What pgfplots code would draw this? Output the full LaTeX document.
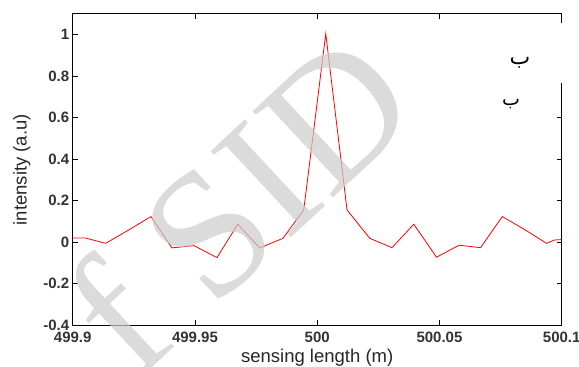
\documentclass[border=0pt]{standalone}
\usepackage{pgfplots}
\pgfplotsset{compat=1.18}
\usepackage{fontspec}
\setmainfont{Liberation Sans}
\newfontfamily\wmfont{Liberation Serif}
\newfontfamily\arabicfont[Script=Arabic]{DejaVu Sans}
\TeXXeTstate=1
\begin{document}
\begin{tikzpicture}[x=1pt,y=1pt]
\useasboundingbox (0,0) rectangle (579,367);
\begin{axis}[
  at={(72.7pt,41.7pt)}, anchor=south west,
  scale only axis, width=489pt, height=311.3pt,
  xmin=499.9, xmax=500.1, ymin=-0.4, ymax=1.1,
  xtick={499.9,499.95,500,500.05,500.1},
  xticklabels={499.9,499.95,500,500.05,500.1},
  ytick={-0.4,-0.2,0,0.2,0.4,0.6,0.8,1},
  yticklabels={-0.4,-0.2,0,0.2,0.4,0.6,0.8,1},
  tick align=inside, major tick length=5pt,
  tick style={black, line width=0.8pt},
  axis line style={black, line width=1pt},
  /pgf/number format/assume math mode=true,
  tick label style={font=\fontsize{15}{15}\selectfont\bfseries, text=black!80},
  xticklabel style={yshift=-3.5pt},
  label style={font=\fontsize{18.5}{18.5}\selectfont, text=black!85},
  xlabel={sensing length (m)},
  ylabel={intensity (a.u)},
  xlabel style={at={(axis description cs:0.5,0)}, anchor=base, yshift=-37.7pt},
  ylabel style={yshift=6pt},
  clip=true,
]
\addplot[red, line width=0.8pt] coordinates {
(499.9,0.021) (499.905,0.021) (499.9135,-0.005) (499.923,0.06) (499.932,0.124)
(499.9406,-0.027) (499.9496,-0.016) (499.959,-0.074) (499.9675,0.087)
(499.9765,-0.027) (499.986,0.019) (499.9945,0.156) (500.0035,1.005)
(500.0122,0.156) (500.0215,0.019) (500.0306,-0.026) (500.0395,0.087)
(500.0488,-0.072) (500.058,-0.014) (500.0668,-0.026) (500.0757,0.124)
(500.085,0.06) (500.0938,-0.005) (500.097,0.011) (500.1,0.013)
};
\end{axis}
\fill[white] (555,284) rectangle (570,344);
\node[text=black] at (520,304) {\fontsize{22}{22}\selectfont\arabicfont\beginR ب\endR};
\node[text=black] at (511,263) {\fontsize{19}{19}\selectfont\arabicfont\beginR ب\endR};
\node[rotate=43, text=black!20, opacity=0.7, font=\fontsize{180}{180}\selectfont\wmfont] at (238,165) {f SID};
\end{tikzpicture}
\end{document}
